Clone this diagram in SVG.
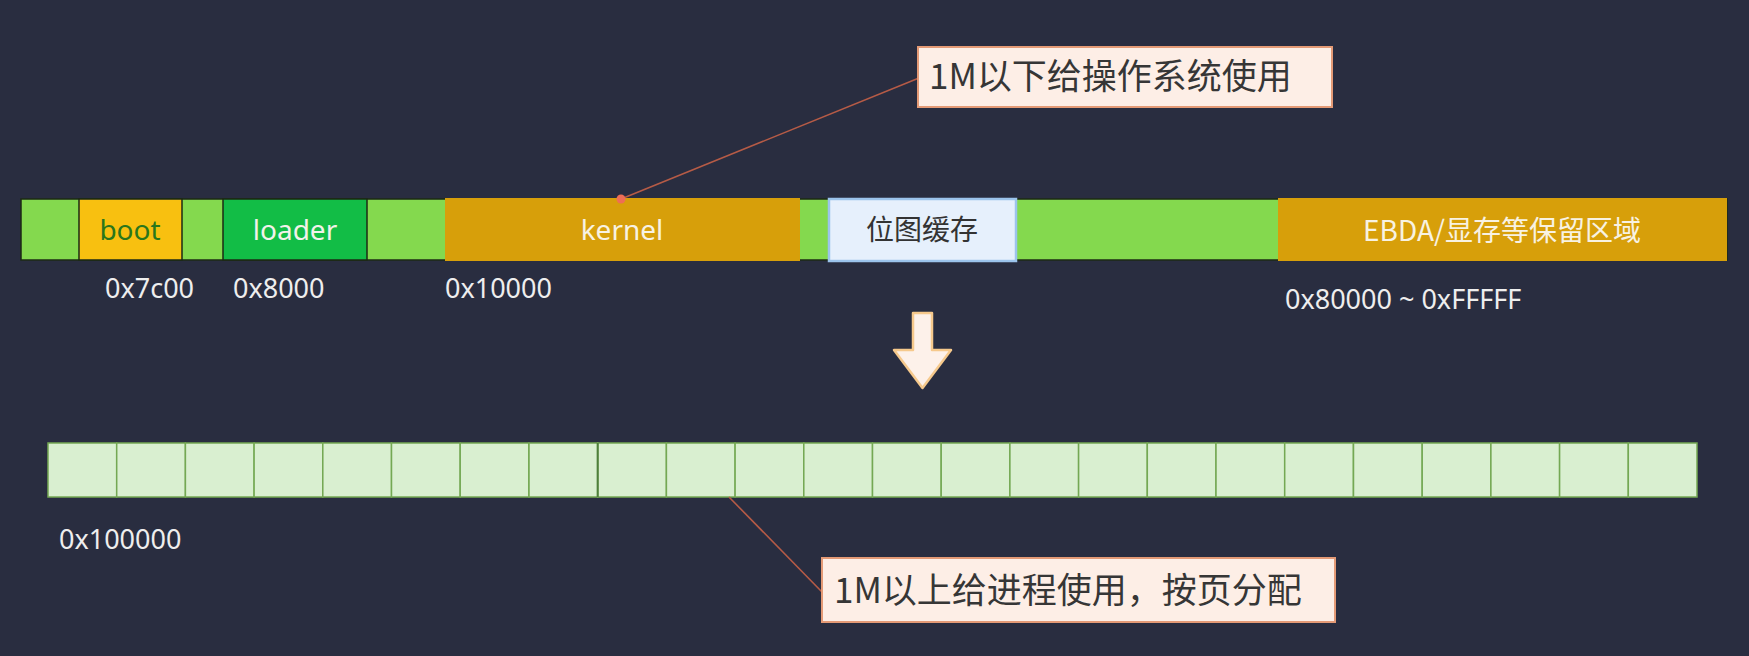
<svg xmlns="http://www.w3.org/2000/svg" width="1749" height="656" viewBox="0 0 1749 656">
<style>
.lat{font-family:"Noto Sans","Noto Sans CJK SC",sans-serif;font-size:27px}
.lbl{font-size:28px}
.cjk{font-family:"Noto Sans CJK SC","Noto Sans",sans-serif}
.addr{fill:#EEEEEE}
.seg{stroke:#1C2A14;stroke-width:1.5}
.cell{fill:#D9EFD0;stroke:#74A853;stroke-width:1.5}
.callout{fill:#FDEEE6;stroke:#E49A76;stroke-width:2}
.ctext{fill:#363636;font-size:35px}
.lead{stroke:#B65B46;stroke-width:1.6;fill:none}
</style>
<rect width="1749" height="656" fill="#292D40"/>

<g id="top-bar">
  <rect x="21" y="199" width="1706" height="61" fill="#84D94E" class="seg"/>
</g>
<g id="boot">
  <rect x="79" y="199" width="103" height="61" fill="#F8C010" class="seg"/>
  <text x="130" y="240" class="lat lbl" fill="#2A761C" text-anchor="middle">boot</text>
</g>
<g id="loader">
  <rect x="223" y="199" width="144" height="61" fill="#12BD46" class="seg"/>
  <text x="295" y="240" class="lat lbl" fill="#F2F2EA" text-anchor="middle">loader</text>
</g>
<g id="kernel">
  <rect x="445" y="198" width="355" height="63" fill="#D79F0A"/>
  <text x="622" y="240" class="lat lbl" fill="#F8F2E2" text-anchor="middle">kernel</text>
</g>
<g id="bitmap">
  <rect x="829" y="199" width="187" height="62" fill="#E6F0FC" stroke="#9CC4EC" stroke-width="2.5"/>
  <text x="922" y="240" class="cjk" font-size="28" fill="#333333" text-anchor="middle">位图缓存</text>
</g>
<g id="ebda">
  <rect x="1278" y="198" width="449" height="63" fill="#D79F0A"/>
  <text x="1502" y="241" class="cjk" font-size="28" fill="#F8F2E2" text-anchor="middle">EBDA/显存等保留区域</text>
</g>

<g id="addresses">
  <text x="105" y="298" class="lat addr">0x7c00</text>
  <text x="233" y="298" class="lat addr">0x8000</text>
  <text x="445" y="298" class="lat addr">0x10000</text>
  <text x="1285" y="309" class="lat addr">0x80000 ~ 0xFFFFF</text>
  <text x="59" y="549" class="lat addr">0x100000</text>
</g>

<g id="down-arrow">
  <polygon points="913,313 932,313 932,350 951,350 922.5,388 894,350 913,350" fill="#FDF1EA" stroke="#F6C98C" stroke-width="2.5" stroke-linejoin="round"/>
</g>

<g id="pages">
  <rect class="cell" x="48" y="443" width="68.7" height="54"/>
  <rect class="cell" x="116.7" y="443" width="68.7" height="54"/>
  <rect class="cell" x="185.4" y="443" width="68.7" height="54"/>
  <rect class="cell" x="254.1" y="443" width="68.7" height="54"/>
  <rect class="cell" x="322.8" y="443" width="68.7" height="54"/>
  <rect class="cell" x="391.5" y="443" width="68.7" height="54"/>
  <rect class="cell" x="460.2" y="443" width="68.7" height="54"/>
  <rect class="cell" x="529" y="443" width="68.7" height="54"/>
  <rect class="cell" x="597.7" y="443" width="68.7" height="54"/>
  <rect class="cell" x="666.4" y="443" width="68.7" height="54"/>
  <rect class="cell" x="735.1" y="443" width="68.7" height="54"/>
  <rect class="cell" x="803.8" y="443" width="68.7" height="54"/>
  <rect class="cell" x="872.5" y="443" width="68.7" height="54"/>
  <rect class="cell" x="941.2" y="443" width="68.7" height="54"/>
  <rect class="cell" x="1009.9" y="443" width="68.7" height="54"/>
  <rect class="cell" x="1078.6" y="443" width="68.7" height="54"/>
  <rect class="cell" x="1147.3" y="443" width="68.7" height="54"/>
  <rect class="cell" x="1216" y="443" width="68.7" height="54"/>
  <rect class="cell" x="1284.7" y="443" width="68.7" height="54"/>
  <rect class="cell" x="1353.5" y="443" width="68.7" height="54"/>
  <rect class="cell" x="1422.2" y="443" width="68.7" height="54"/>
  <rect class="cell" x="1490.9" y="443" width="68.7" height="54"/>
  <rect class="cell" x="1559.6" y="443" width="68.7" height="54"/>
  <rect class="cell" x="1628.3" y="443" width="68.7" height="54"/>
  <line x1="597.7" y1="443" x2="597.7" y2="497" stroke="#4E7F3A" stroke-width="2"/>
</g>

<g id="connectors">
  <line class="lead" x1="621" y1="199" x2="919" y2="78"/>
  <circle cx="621" cy="199" r="4.5" fill="#EE6E55"/>
  <line class="lead" x1="729" y1="497" x2="822" y2="592"/>
</g>

<g id="callout-os">
  <rect class="callout" x="918" y="47" width="414" height="60"/>
  <text x="929" y="89" class="cjk ctext">1M以下给操作系统使用</text>
</g>
<g id="callout-proc">
  <rect class="callout" x="822" y="558" width="513" height="64"/>
  <text x="834" y="603" class="cjk ctext">1M以上给进程使用，按页分配</text>
</g>
</svg>
